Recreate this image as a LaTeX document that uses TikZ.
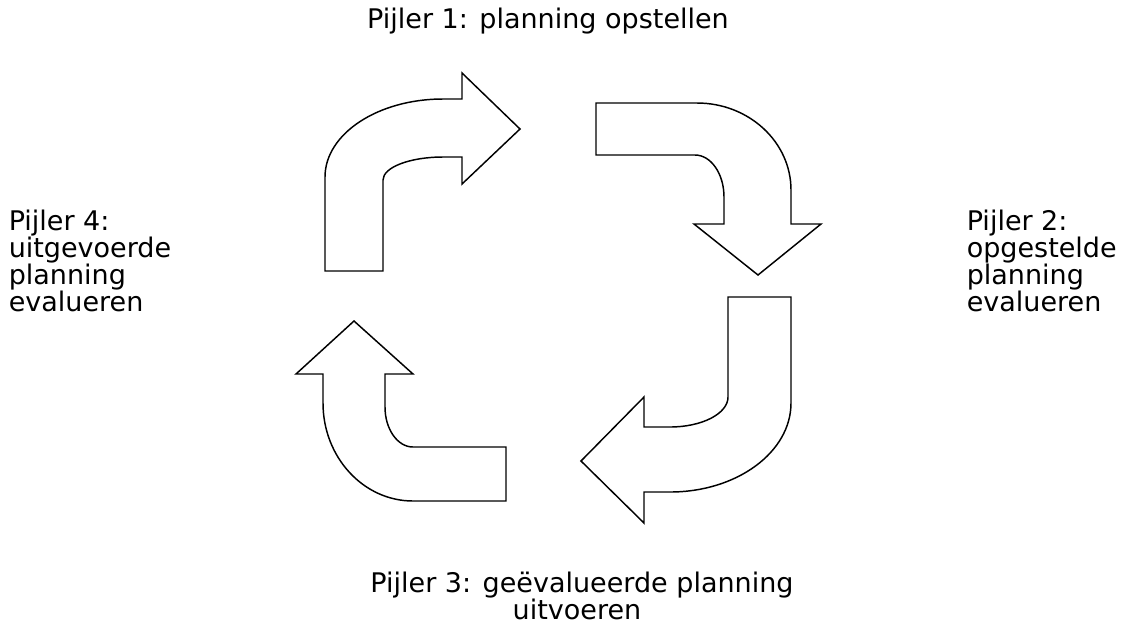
\documentclass[tikz,border=0pt]{standalone}
\usepackage{fontspec}
\setmainfont{DejaVu Sans}
\begin{document}
\begin{tikzpicture}[x=0.75pt,y=-0.75pt,
  arrowshape/.style={draw=black, line width=1.1pt, fill=white, line join=miter},
  lbl/.style={inner sep=0, font=\fontsize{20.25}{20}\selectfont}]
\useasboundingbox (0,0) rectangle (1127,637);
% arrow 1: up then right
\draw[arrowshape] (325,271) -- (325,177) .. controls (325,133.9) and (377.8,99) .. (443,99)
  -- (462,99) -- (462,73) -- (520,129) -- (462,184) -- (462,157) -- (443,157)
  .. controls (409.9,157) and (383,167.3) .. (383,180) -- (383,271) -- cycle;
% arrow 2: right then down
\draw[arrowshape] (596,103) -- (697,103) .. controls (748.9,103) and (791,142) .. (791,190)
  -- (791,224) -- (821,224) -- (758,275) -- (694,224) -- (724,224) -- (724,197)
  .. controls (724,173.8) and (711,155) .. (695,155) -- (596,155) -- cycle;
% arrow 3: down then left
\draw[arrowshape] (728,297) -- (791,297) -- (791,403) .. controls (791,452.2) and (736.8,492) .. (670,492)
  -- (644,492) -- (644,523) -- (581,461) -- (644,397) -- (644,427) -- (670,427)
  .. controls (702,427) and (728,413.6) .. (728,397) -- cycle;
% arrow 4: left then up
\draw[arrowshape] (354,321) -- (413,374) -- (385,374) -- (385,407)
  .. controls (385,429.1) and (397.5,447) .. (413,447) -- (506,447) -- (506,501) -- (413,501)
  .. controls (363.3,501) and (323,457.1) .. (323,403) -- (323,374) -- (296,374) -- cycle;
% labels
\node[lbl, anchor=base] (p1) at (548,28) {Pijler 1: planning opstellen};
\node[lbl, anchor=base west] (p2a) at (966.5,230) {Pijler 2:};
\node[lbl, anchor=base west] (p2b) at (966.5,257) {opgestelde};
\node[lbl, anchor=base west] (p2c) at (966.5,284) {planning};
\node[lbl, anchor=base west] (p2d) at (966.5,311) {evalueren};
\node[lbl, anchor=base west] (p4a) at (8.5,230) {Pijler 4:};
\node[lbl, anchor=base west] (p4b) at (8.5,257) {uitgevoerde};
\node[lbl, anchor=base west] (p4c) at (8.5,284) {planning};
\node[lbl, anchor=base west] (p4d) at (8.5,311) {evalueren};
\node[lbl, anchor=base] (p3a) at (582,592) {Pijler 3: geëvalueerde planning};
\node[lbl, anchor=base] (p3b) at (577,619) {uitvoeren};
\end{tikzpicture}
\end{document}
